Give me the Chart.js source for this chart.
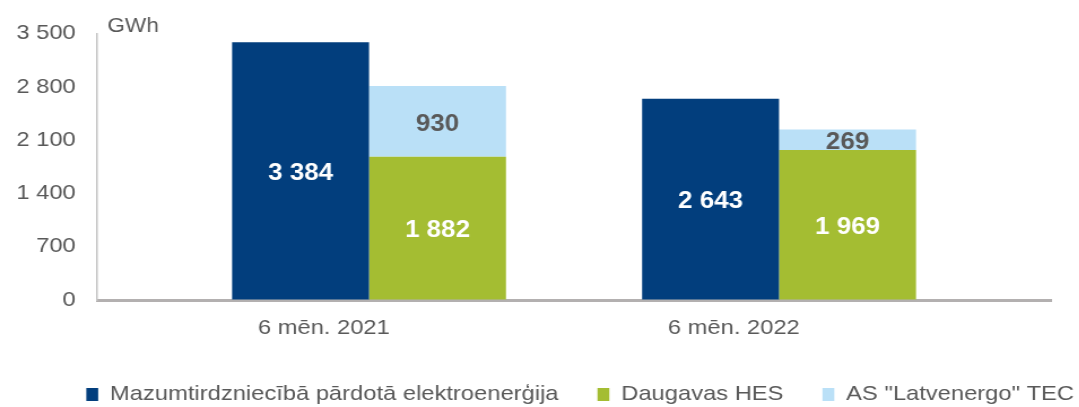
<!DOCTYPE html>
<html>
<head>
<meta charset="utf-8">
<script src="https://cdn.jsdelivr.net/npm/chart.js@4.4.0/dist/chart.umd.min.js"></script>
<style>
  html, body { margin: 0; padding: 0; overflow: hidden; background: #fff; }
  /* the reference is a horizontally stretched picture, so stretch the canvas too;
     the canvas runs a little past the window so the legend can sit further right */
  #wrap { width: 985px; height: 415px; transform: scaleX(1.13); transform-origin: 0 0; }
</style>
</head>
<body>
<div id="wrap"><canvas id="chart"></canvas></div>
<script>
// data
const categories = ['6 mēn. 2021', '6 mēn. 2022'];
const retailSales = [3384, 2643];
const daugavaHes = [1882, 1969];
const latvenergoTec = [930, 269];
const yTicks = [0, 700, 1400, 2100, 2800, 3500];
const seriesNames = ['Mazumtirdzniecībā pārdotā elektroenerģija', 'Daugavas HES', 'AS "Latvenergo" TEC'];

const colors = ['#023e7d', '#a4bd32', '#bae0f7'];
const labelColors = ['#ffffff', '#ffffff', '#595959'];
const textColor = '#595959';

Chart.defaults.font.family = '"Liberation Sans", Arial, sans-serif';

function fmt(v) {
    return String(v).replace(/\B(?=(\d{3})+(?!\d))/g, ' ');
}

function points(values) {
    return values.map((v, i) => ({ x: i, y: v }));
}

// value labels in the middle of each bar segment
const valueLabels = {
    id: 'valueLabels',
    afterDatasetsDraw(chart) {
        const ctx = chart.ctx;
        ctx.save();
        ctx.font = 'bold 23px "Liberation Sans", Arial, sans-serif';
        ctx.textAlign = 'center';
        ctx.textBaseline = 'middle';
        chart.data.datasets.forEach((ds, i) => {
            chart.getDatasetMeta(i).data.forEach((bar, j) => {
                ctx.fillStyle = labelColors[i];
                ctx.fillText(fmt(ds.data[j].y), bar.x, (bar.y + bar.base) / 2 + 3);
            });
        });
        ctx.restore();
    }
};

// unit label next to the top of the y axis
const unitLabel = {
    id: 'unitLabel',
    afterDraw(chart) {
        const ctx = chart.ctx;
        ctx.save();
        ctx.font = '20px "Liberation Sans", Arial, sans-serif';
        ctx.fillStyle = textColor;
        ctx.textAlign = 'left';
        ctx.textBaseline = 'alphabetic';
        ctx.fillText('GWh', chart.chartArea.left + 9, 32);
        ctx.restore();
    }
};

new Chart(document.getElementById('chart'), {
    type: 'bar',
    data: {
        datasets: [{
            label: seriesNames[0],
            data: points(retailSales),
            backgroundColor: colors[0],
            stack: 'sales'
        }, {
            label: seriesNames[1],
            data: points(daugavaHes),
            backgroundColor: colors[1],
            stack: 'production'
        }, {
            label: seriesNames[2],
            data: points(latvenergoTec),
            backgroundColor: colors[2],
            stack: 'production'
        }]
    },
    options: {
        responsive: true,
        maintainAspectRatio: false,
        animation: false,
        categoryPercentage: 0.668,
        barPercentage: 1,
        layout: {
            padding: { top: 33.5, left: 0, right: 0, bottom: 0 }
        },
        plugins: {
            legend: {
                position: 'bottom',
                align: 'end',
                labels: {
                    boxWidth: 10.5,
                    boxHeight: 13,
                    padding: 34.5,
                    color: textColor,
                    font: { size: 21 }
                }
            },
            tooltip: { enabled: false }
        },
        scales: {
            x: {
                type: 'linear',
                offset: false,
                min: -0.663,
                max: 1.663,
                afterBuildTicks: axis => {
                    axis.ticks = categories.map((c, i) => ({ value: i }));
                },
                ticks: {
                    autoSkip: false,
                    maxRotation: 0,
                    padding: 16,
                    labelOffset: -40,
                    color: textColor,
                    font: { size: 21 },
                    callback: v => categories[v]
                },
                grid: { display: true, drawOnChartArea: false, drawTicks: false },
                border: { color: '#b3b0b0', width: 3 },
                afterFit: axis => { axis.height = 49.5; }
            },
            y: {
                stacked: true,
                min: 0,
                max: 3500,
                afterBuildTicks: axis => {
                    axis.ticks = yTicks.map(v => ({ value: v }));
                },
                ticks: {
                    padding: 19,
                    color: textColor,
                    font: { size: 21 },
                    callback: v => fmt(v)
                },
                grid: { display: true, drawOnChartArea: false, drawTicks: false },
                border: { color: '#c4c4c4', width: 1.5 },
                afterFit: axis => { axis.width = 86; }
            },
            // empty right-hand space, keeps the plot off the right edge
            pad: {
                type: 'linear',
                position: 'right',
                ticks: { display: false },
                grid: { display: false, drawTicks: false },
                border: { display: false },
                afterFit: axis => { axis.width = 55; }
            }
        }
    },
    plugins: [valueLabels, unitLabel]
});
</script>
</body>
</html>
